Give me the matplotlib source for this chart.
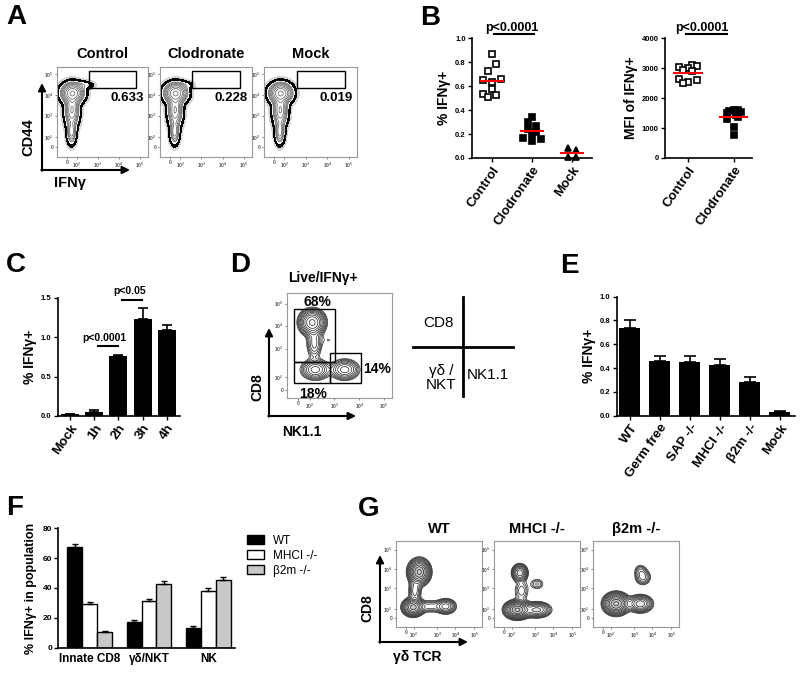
import numpy as np
import matplotlib
matplotlib.use("Agg")
import matplotlib.pyplot as plt
from matplotlib.patches import Rectangle

plt.rcParams["font.family"] = ["Liberation Sans", "DejaVu Sans"]
plt.rcParams["font.weight"] = "bold"
plt.rcParams["axes.labelweight"] = "bold"
plt.rcParams["mathtext.default"] = "regular"

# ---------------------------------------------------------------- data
# A: flow plots (CD44 vs IFNg)
a_titles = ["Control", "Clodronate", "Mock"]
a_gate_pct = ["0.633", "0.228", "0.019"]
# populations per plot: (x, y, sx, sy, weight) in plot-fraction units
a_pops = [
    [(0.17, 0.71, 0.06, 0.055, 1.0), (0.165, 0.52, 0.04, 0.09, 0.5),
     (0.16, 0.28, 0.027, 0.07, 0.3), (0.30, 0.80, 0.06, 0.025, 0.06)],
    [(0.17, 0.71, 0.06, 0.055, 1.0), (0.165, 0.52, 0.04, 0.09, 0.5),
     (0.16, 0.28, 0.027, 0.07, 0.3), (0.28, 0.80, 0.05, 0.025, 0.04)],
    [(0.18, 0.71, 0.06, 0.055, 1.0), (0.175, 0.52, 0.04, 0.09, 0.5),
     (0.17, 0.28, 0.027, 0.07, 0.3)],
]
flow_tick_labels = ["0", "$10^2$", "$10^3$", "$10^4$", "$10^5$"]

# B: scatter of individual mice
b_groups = ["Control", "Clodronate", "Mock"]
b_pct_control = [0.867, 0.789, 0.728, 0.65, 0.656, 0.631, 0.58, 0.533, 0.511, 0.525]
b_pct_control_dx = [0, 0.11, -0.11, -0.22, 0.22, 0, 0, -0.22, -0.11, 0.11]
b_pct_clod = [0.34, 0.30, 0.27, 0.24, 0.22, 0.20, 0.17, 0.16, 0.14]
b_pct_clod_dx = [0, -0.11, 0.11, -0.11, 0.11, 0, -0.22, 0.22, 0]
b_pct_mock = [0.085, 0.07, 0.005, 0.005]
b_pct_mock_dx = [-0.11, 0.11, -0.11, 0.11]
b_mfi_groups = ["Control", "Clodronate"]
b_mfi_control = [3100, 3080, 3050, 3000, 2950, 2900, 2650, 2600, 2530, 2500]
b_mfi_control_dx = [0.1, 0.2, -0.2, 0, -0.1, 0.1, -0.2, 0.2, 0, -0.1]
b_mfi_clod = [1620, 1600, 1580, 1550, 1500, 1450, 1380, 1300, 1050, 780]
b_mfi_clod_dx = [0, 0.1, -0.1, 0.15, -0.15, 0.05, 0.1, -0.15, 0, 0]

# C: time course
c_labels = ["Mock", "1h", "2h", "3h", "4h"]
c_vals = [0.02, 0.055, 0.76, 1.225, 1.09]
c_err = [0.005, 0.015, 0.01, 0.14, 0.07]

# D: gating of IFNg+ cells
d_pops = [(0.24, 0.72, 0.06, 0.06, 1.0), (0.26, 0.52, 0.04, 0.08, 0.25),
          (0.40, 0.55, 0.05, 0.04, 0.05), (0.27, 0.27, 0.07, 0.05, 0.45),
          (0.55, 0.27, 0.07, 0.05, 0.45)]
d_pct = ["68%", "14%", "18%"]

# E: knockouts
e_labels = ["WT", "Germ free", "SAP -/-", "MHCI -/-", "β2m -/-", "Mock"]
e_vals = [0.74, 0.462, 0.454, 0.426, 0.286, 0.034]
e_err = [0.064, 0.042, 0.047, 0.05, 0.036, 0.005]

# F: populations by genotype
f_groups = ["Innate CD8", "γδ/NKT", "NK"]
f_series = ["WT", "MHCI -/-", "β2m -/-"]
f_wt = [67.5, 17.5, 13.5]
f_wt_err = [2.0, 1.0, 1.0]
f_mhci = [29.0, 31.5, 38.0]
f_mhci_err = [1.5, 1.0, 2.0]
f_b2m = [10.5, 42.5, 45.5]
f_b2m_err = [0.5, 2.0, 2.0]

# G: CD8 vs gd TCR
g_titles = ["WT", "MHCI -/-", "β2m -/-"]
g_pops = [
    [(0.27, 0.64, 0.06, 0.07, 1.0), (0.20, 0.23, 0.06, 0.05, 0.8),
     (0.58, 0.24, 0.06, 0.045, 0.35), (0.40, 0.24, 0.08, 0.04, 0.15),
     (0.22, 0.42, 0.04, 0.07, 0.2)],
    [(0.30, 0.63, 0.045, 0.05, 0.5), (0.27, 0.20, 0.07, 0.05, 1.0),
     (0.50, 0.20, 0.08, 0.045, 0.45), (0.50, 0.50, 0.05, 0.04, 0.1),
     (0.32, 0.42, 0.05, 0.07, 0.12)],
    [(0.58, 0.58, 0.05, 0.05, 0.2), (0.55, 0.66, 0.04, 0.04, 0.1),
     (0.27, 0.27, 0.07, 0.06, 1.0), (0.55, 0.27, 0.07, 0.05, 0.5)],
]

# ---------------------------------------------------------------- helpers
W, H = 800, 674
fig = plt.figure(figsize=(W / 100, H / 100), dpi=100)


def axes_px(x0, y0, x1, y1):
    return fig.add_axes([x0 / W, 1 - y1 / H, (x1 - x0) / W, (y1 - y0) / H])


def density(pops, n=240):
    gx, gy = np.meshgrid(np.linspace(0, 1, n), np.linspace(0, 1, n))
    z = np.zeros_like(gx)
    for cx, cy, sx, sy, w in pops:
        z += w * np.exp(-((gx - cx) ** 2 / (2 * sx ** 2) + (gy - cy) ** 2 / (2 * sy ** 2)))
    return gx, gy, z


def flow_axes(ax, xt, yt):
    ax.set_xlim(0, 1)
    ax.set_ylim(0, 1)
    ax.set_xticks(xt, flow_tick_labels)
    ax.set_yticks(yt, flow_tick_labels)
    ax.tick_params(length=1.5, width=0.5, colors="#555", labelsize=3.5, pad=1)
    for s in ax.spines.values():
        s.set_color("#999")
        s.set_linewidth(0.8)


def bar_axes(ax):
    ax.spines[["top", "right"]].set_visible(False)
    for s in ["left", "bottom"]:
        ax.spines[s].set_linewidth(1.2)
    ax.tick_params(width=1, length=3, labelsize=5.5, pad=1.5)


# ---------------------------------------------------------------- A
a_boxes = [(57, 148), (160, 252), (264, 357)]
for (x0, x1), title, pct, pops in zip(a_boxes, a_titles, a_gate_pct, a_pops):
    ax = axes_px(x0, 67, x1, 157)
    gx, gy, z = density(pops)
    m = z.max()
    ax.contourf(gx, gy, z, levels=[0.004 * m, 0.014 * m], colors=["#d4d4d4"])
    ax.contourf(gx, gy, z, levels=[0.014 * m, 0.032 * m], colors=["black"])
    ax.contour(gx, gy, z, levels=m * np.geomspace(0.08, 0.9, 8),
               colors="#555", linewidths=0.5)
    ax.add_patch(Rectangle((0.35, 0.77), 0.52, 0.19, fill=False, lw=1, ec="black"))
    ax.text(0.955, 0.66, pct, transform=ax.transAxes, ha="right", va="center",
            fontsize=9.5, fontweight="bold")
    flow_axes(ax, [0.11, 0.22, 0.45, 0.68, 0.91], [0.11, 0.22, 0.46, 0.69, 0.92])
    fig.text((x0 + x1) / 2 / W, 1 - 54 / H, title, ha="center", va="center",
             fontsize=10.5, fontweight="bold")

# ---------------------------------------------------------------- B
ax = axes_px(472, 38.3, 592, 158)
bar_axes(ax)
for i, (vals, dx, mk, fc) in enumerate([
        (b_pct_control, b_pct_control_dx, "s", "white"),
        (b_pct_clod, b_pct_clod_dx, "s", "black"),
        (b_pct_mock, b_pct_mock_dx, "^", "black")]):
    ax.plot(np.array(dx) + i, vals, mk, mfc=fc, mec="black", mew=1.2, ms=5,
            ls="none", clip_on=False, zorder=3)
    ax.hlines(np.mean(vals), i - 0.3, i + 0.3, colors="red", lw=1.5, zorder=4)
ax.set_xlim(-0.5, 2.5)
ax.set_ylim(0, 1.0)
ax.set_yticks(np.arange(0, 1.01, 0.2))
ax.yaxis.set_major_formatter(matplotlib.ticker.FormatStrFormatter("%.1f"))
ax.set_xticks(range(3), b_groups, rotation=55, ha="right", rotation_mode="anchor",
              fontsize=9.5)
ax.set_ylabel("% IFNγ+", fontsize=10, labelpad=3)
ax.plot([0.05, 1.05], [1.033, 1.033], color="black", lw=1.5, clip_on=False)
ax.text(0.5, 1.09, "p<0.0001", ha="center", va="center", fontsize=9,
        transform=ax.get_xaxis_transform())

ax = axes_px(665, 38.3, 752, 158)
bar_axes(ax)
for i, (vals, dx, fc) in enumerate([
        (b_mfi_control, b_mfi_control_dx, "white"),
        (b_mfi_clod, b_mfi_clod_dx, "black")]):
    ax.plot(np.array(dx) + i, vals, "s", mfc=fc, mec="black", mew=1.2, ms=5,
            ls="none", clip_on=False, zorder=3)
    ax.hlines(np.mean(vals), i - 0.32, i + 0.32, colors="red", lw=1.5, zorder=4)
ax.set_xlim(-0.5, 1.4)
ax.set_ylim(0, 4000)
ax.set_yticks(range(0, 4001, 1000))
ax.set_xticks(range(2), b_mfi_groups, rotation=55, ha="right", rotation_mode="anchor",
              fontsize=9.5)
ax.set_ylabel("MFI of IFNγ+", fontsize=10, labelpad=3)
ax.plot([-0.05, 0.85], [4133, 4133], color="black", lw=1.5, clip_on=False)
ax.text(0.3, 1.09, "p<0.0001", ha="center", va="center", fontsize=9,
        transform=ax.get_xaxis_transform())

# ---------------------------------------------------------------- C
ax = axes_px(57.7, 297.7, 180, 416)
bar_axes(ax)
x = np.arange(len(c_vals))
ax.bar(x, c_vals, width=0.75, color="black")
ax.errorbar(x, c_vals, yerr=[np.zeros(len(c_err)), c_err], fmt="none",
            ecolor="black", elinewidth=1.2, capsize=3.5, capthick=1.2)
ax.set_xlim(-0.53, 4.56)
ax.set_ylim(0, 1.5)
ax.set_yticks([0, 0.5, 1.0, 1.5])
ax.yaxis.set_major_formatter(matplotlib.ticker.FormatStrFormatter("%.1f"))
ax.set_xticks(x, c_labels, rotation=55, ha="right", rotation_mode="anchor", fontsize=9.5)
ax.set_ylabel("% IFNγ+", fontsize=10, labelpad=3)
ax.plot([1.13, 1.97], [0.89, 0.89], color="black", lw=1.5, clip_on=False)
ax.text(1.4, 0.985, "p<0.0001", ha="center", va="center", fontsize=7.5)
ax.plot([2.16, 2.99], [1.47, 1.47], color="black", lw=1.5, clip_on=False)
ax.text(2.45, 1.58, "p<0.05", ha="center", va="center", fontsize=7.5)

# ---------------------------------------------------------------- D
ax = axes_px(287, 293, 392, 398)
gx, gy, z = density(d_pops)
ax.contour(gx, gy, z, levels=z.max() * np.geomspace(0.05, 0.9, 11),
           colors="#222", linewidths=0.5)
for gx0, gy0, gw, gh in [(0.067, 0.34, 0.393, 0.51), (0.067, 0.14, 0.343, 0.20),
                         (0.41, 0.14, 0.29, 0.29)]:
    ax.add_patch(Rectangle((gx0, gy0), gw, gh, fill=False, lw=1, ec="black"))
flow_axes(ax, [0.105, 0.22, 0.45, 0.69, 0.92], [0.08, 0.20, 0.47, 0.69, 0.90])
ax.text(0.29, 0.915, d_pct[0], ha="center", va="center", fontsize=10, transform=ax.transAxes)
ax.text(0.857, 0.275, d_pct[1], ha="center", va="center", fontsize=10, transform=ax.transAxes)
ax.text(0.25, 0.04, d_pct[2], ha="center", va="center", fontsize=10, transform=ax.transAxes)
fig.text(323 / W, 1 - 278 / H, "Live/IFNγ+", ha="center", va="center", fontsize=10)

# ---------------------------------------------------------------- E
ax = axes_px(616.7, 296.7, 795, 415.7)
bar_axes(ax)
x = np.arange(len(e_vals))
ax.bar(x, e_vals, width=0.7, color="black")
ax.errorbar(x, e_vals, yerr=[np.zeros(len(e_err)), e_err], fmt="none",
            ecolor="black", elinewidth=1.2, capsize=4, capthick=1.2)
ax.set_xlim(-0.44, 5.5)
ax.set_ylim(0, 1.0)
ax.set_yticks(np.arange(0, 1.01, 0.2))
ax.yaxis.set_major_formatter(matplotlib.ticker.FormatStrFormatter("%.1f"))
ax.set_xticks(x, e_labels, rotation=55, ha="right", rotation_mode="anchor", fontsize=9.5)
ax.set_ylabel("% IFNγ+", fontsize=10, labelpad=3)

# ---------------------------------------------------------------- F
ax = axes_px(58.3, 528.3, 235, 647.7)
bar_axes(ax)
x = np.arange(len(f_groups))
bw = 0.25
handles = []
for k, (vals, err, fc) in enumerate([(f_wt, f_wt_err, "black"),
                                     (f_mhci, f_mhci_err, "white"),
                                     (f_b2m, f_b2m_err, "#c8c8c8")]):
    xs = x + (k - 1) * bw
    h = ax.bar(xs, vals, width=bw, color=fc, edgecolor="black", lw=1)
    handles.append(h)
    ax.errorbar(xs, vals, yerr=[np.zeros(len(err)), err], fmt="none",
                ecolor="black", elinewidth=1, capsize=2.5, capthick=1)
ax.set_xlim(-0.53, 2.45)
ax.set_ylim(0, 80)
ax.set_yticks(range(0, 81, 20))
ax.tick_params(axis="y", labelsize=6)
ax.tick_params(axis="x", length=0, labelsize=8.5, pad=4)
ax.set_xticks(x, f_groups)
ax.set_ylabel("% IFNγ+ in population", fontsize=9, labelpad=4)
fig.legend(handles, f_series, loc="upper left", bbox_to_anchor=(236 / W, 1 - 524 / H),
           frameon=False, prop={"weight": "normal", "size": 8.5},
           handlelength=1.5, handleheight=0.9, labelspacing=0.25, handletextpad=0.7)

# ---------------------------------------------------------------- G
g_boxes = [(396, 482), (494, 580), (593, 679)]
for (x0, x1), title, pops in zip(g_boxes, g_titles, g_pops):
    ax = axes_px(x0, 541, x1, 627)
    gx, gy, z = density(pops)
    m = z.max()
    ax.contourf(gx, gy, z, levels=m * np.array([0.4, 0.75, 1.01]),
                colors=["#cccccc", "#999999"], alpha=0.5)
    ax.contour(gx, gy, z, levels=m * np.geomspace(0.04, 0.92, 12),
               colors="#222", linewidths=0.5)
    flow_axes(ax, [0.12, 0.21, 0.48, 0.69, 0.91], [0.10, 0.21, 0.45, 0.67, 0.90])
    fig.text((x0 + x1) / 2 / W, 1 - 529 / H, title, ha="center", va="center",
             fontsize=10.5, fontweight="bold")

# ---------------------------------------------------------------- overlay
ov = fig.add_axes([0, 0, 1, 1])
ov.set_xlim(0, W)
ov.set_ylim(H, 0)
ov.axis("off")

for lab, xx, yy in [("A", 16, 17), ("B", 430, 18), ("C", 16, 265), ("D", 240, 265),
                    ("E", 569, 266), ("F", 15, 508), ("G", 369, 509)]:
    ov.text(xx, yy, lab, ha="center", va="center", fontsize=20, fontweight="bold")

arrow = dict(arrowstyle="-|>", lw=1.5, color="black", mutation_scale=11,
             shrinkA=0, shrinkB=0)
for cx, cy, top, right in [(42, 170, 83, 130), (269, 416, 328, 356), (380, 642, 555, 468)]:
    ov.annotate("", xy=(cx, top), xytext=(cx, cy + 0.7), arrowprops=arrow)
    ov.annotate("", xy=(right, cy), xytext=(cx - 0.7, cy), arrowprops=arrow)

ov.text(28, 137, "CD44", rotation=90, ha="center", va="center", fontsize=10.5)
ov.text(70, 183, "IFNγ", ha="center", va="center", fontsize=10.5)
ov.text(257, 387, "CD8", rotation=90, ha="center", va="center", fontsize=10)
ov.text(302, 432, "NK1.1", ha="center", va="center", fontsize=10)
ov.text(367, 608, "CD8", rotation=90, ha="center", va="center", fontsize=10)
ov.text(417, 657, "γδ TCR", ha="center", va="center", fontsize=10)

# D quadrant key
ov.plot([463, 463], [297, 396], color="black", lw=2)
ov.plot([413, 513], [347, 347], color="black", lw=2)
ov.text(439, 323, "CD8", ha="center", va="center", fontsize=11, fontweight="normal")
ov.text(441, 378, "γδ /\nNKT", ha="center", va="center", fontsize=11,
        fontweight="normal", linespacing=1.0)
ov.text(488, 375, "NK1.1", ha="center", va="center", fontsize=11, fontweight="normal")

fig.savefig("out.png", dpi=100)
